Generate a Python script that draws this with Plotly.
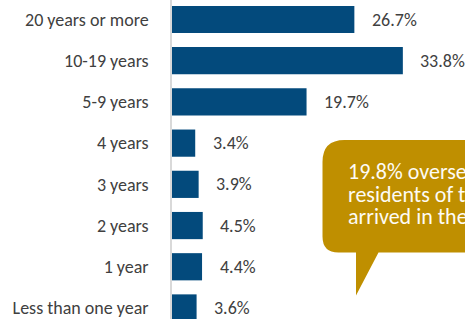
import plotly.graph_objects as go

categories = ["20 years or more", "10-19 years", "5-9 years", "4 years",
              "3 years", "2 years", "1 year", "Less than one year"]
values = [26.7, 33.8, 19.7, 3.4, 3.9, 4.5, 4.4, 3.6]
value_labels = ["26.7%", "33.8%", "19.7%", "3.4%", "3.9%", "4.5%", "4.4%", "3.6%"]
callout_lines = ["19.8% overseas-born", "residents of the area", "arrived in the last 5 years"]

W, H = 465, 319
L = 172
FONT = "Carlito, Lato, 'Open Sans', sans-serif"
BAR = "#034A7C"
GOLD = "#BF8F00"
TXT = "#404040"

fig = go.Figure(go.Bar(
    x=values, y=categories, orientation="h",
    marker=dict(color=BAR, line=dict(width=0)),
    hoverinfo="skip",
))

for v, c, t in zip(values, categories, value_labels):
    fig.add_annotation(x=v, y=c, xref="x", yref="y", text=t, showarrow=False,
                       xanchor="left", yanchor="middle", xshift=15.5,
                       font=dict(family=FONT, size=18, color=TXT))

pw = W - L
def px(x):
    return (x - L) / pw
def py(y):
    return 1 - y / H

x0, x1, y0, y1 = 322.5, 490, 140, 252.5
r1, r2 = 22, 16
path = (f"M {px(x0)},{py(y0 + r1)} "
        f"Q {px(x0)},{py(y0)} {px(x0 + r1)},{py(y0)} "
        f"L {px(x1)},{py(y0)} L {px(x1)},{py(y1)} "
        f"L {px(378.5)},{py(y1)} L {px(356)},{py(295.5)} L {px(356)},{py(y1)} "
        f"L {px(x0 + r2)},{py(y1)} "
        f"Q {px(x0)},{py(y1)} {px(x0)},{py(y1 - r2)} Z")
fig.add_shape(type="path", path=path, xref="paper", yref="paper",
              fillcolor=GOLD, line=dict(width=0), layer="above")
for i, line in enumerate(callout_lines):
    baseline = 178.3 + 22.5 * i
    fig.add_annotation(x=px(345.5), y=py(baseline - 6.5), xref="paper", yref="paper",
                       text=line, showarrow=False, xanchor="left", yanchor="middle",
                       align="left", height=21, valign="middle",
                       font=dict(family=FONT, size=22, color="#FDFBF5", weight=300))

step = 41.21
top_c = 19.5
fig.update_layout(
    width=W, height=H,
    margin=dict(l=L, r=0, t=0, b=0),
    paper_bgcolor="white", plot_bgcolor="white",
    bargap=0.34, showlegend=False,
    xaxis=dict(range=[0, pw / 6.83], visible=False, showgrid=False, zeroline=False),
    yaxis=dict(type="category", categoryorder="array", categoryarray=categories,
               range=[(H - top_c) / step, -top_c / step],
               showgrid=False, zeroline=False, showline=True, linecolor="#D9D9D9",
               linewidth=1.5, ticks="", ticklabelstandoff=18,
               tickfont=dict(family=FONT, size=18, color=TXT)),
)

fig.write_html("out.html", config={"displayModeBar": False},
               post_script="document.body.style.margin='0';document.body.style.overflow='hidden';")
